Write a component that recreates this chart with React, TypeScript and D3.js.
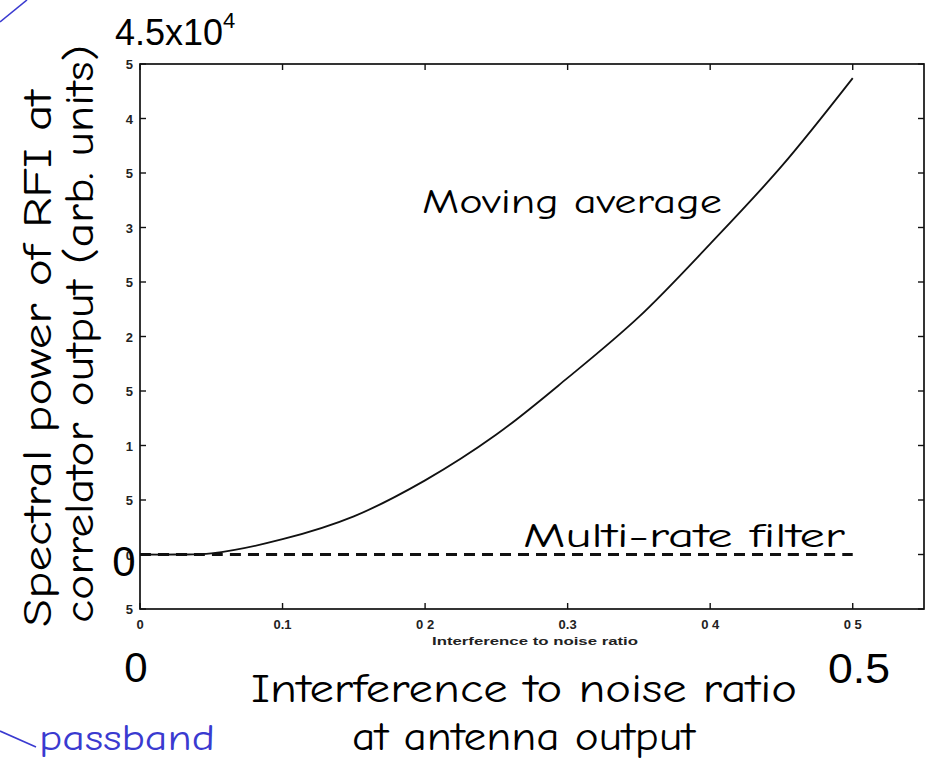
import * as d3 from 'd3';

// interference-to-noise ratio at antenna output
const inr = [0, 0.025, 0.05, 0.1, 0.15, 0.2, 0.25, 0.3, 0.35, 0.4, 0.45, 0.5];
// spectral power of RFI
const movingAverage = [0, 0, 100, 1400, 3500, 6800, 11000, 16200, 21800, 28500, 35600, 43700];
const multiRate = [0, 0, 0, 0, 0, 0, 0, 0, 0, 0, 0, 0];

const xTicks = [0, 0.1, 0.2, 0.3, 0.4, 0.5];
const xTickLabels = ['0', '0.1', '0 2', '0.3', '0 4', '0 5'];
const yTicks = [45000, 40000, 35000, 30000, 25000, 20000, 15000, 10000, 5000, 0, -5000];
const yTickLabels = ['5', '4', '5', '3', '5', '2', '5', '1', '5', '0', '5'];

const W = 931;
const H = 762;
const comic = "'Comic Sans MS', 'Comic Neue', 'DejaVu Sans', sans-serif";
const helv = "'Liberation Sans', Arial, sans-serif";

export default function App() {
  const x = d3.scaleLinear().domain([0, 0.55]).range([140, 924]);
  const y = d3.scaleLinear().domain([-5000, 45000]).range([609, 64]);

  const [x0, x1] = x.range();
  const [y0, y1] = y.range();

  const line = d3
    .line<number>()
    .x((_, i) => x(inr[i]))
    .y((d) => y(d))
    .curve(d3.curveCatmullRom.alpha(0.5));

  const tk = 6;

  return (
    <svg
      width={W}
      height={H}
      style={{ position: 'absolute', left: 0, top: 0, background: '#fff' }}
    >
      {/* frame */}
      <rect x={x0} y={y1} width={x1 - x0} height={y0 - y1} fill="none" stroke="#111" strokeWidth={1.7} />

      {/* ticks, inward on all sides */}
      {xTicks.map((t) => (
        <g key={'xt' + t} stroke="#111" strokeWidth={1.4}>
          <line x1={x(t)} x2={x(t)} y1={y0} y2={y0 - tk} />
          <line x1={x(t)} x2={x(t)} y1={y1} y2={y1 + tk} />
        </g>
      ))}
      {yTicks.map((t) => (
        <g key={'yt' + t} stroke="#111" strokeWidth={1.4}>
          <line x1={x0} x2={x0 + tk} y1={y(t)} y2={y(t)} />
          <line x1={x1} x2={x1 - tk} y1={y(t)} y2={y(t)} />
        </g>
      ))}

      {xTickLabels.map((s, i) => (
        <text
          key={'xl' + i}
          x={x(xTicks[i])}
          y={629}
          textAnchor="middle"
          fontFamily={helv}
          fontWeight="bold"
          fontSize={13}
          fill="#222"
        >
          {s}
        </text>
      ))}
      {yTickLabels.map((s, i) => (
        <text
          key={'yl' + i}
          x={133}
          y={y(yTicks[i]) + 5}
          textAnchor="end"
          fontFamily={helv}
          fontWeight="bold"
          fontSize={13}
          fill="#222"
        >
          {s}
        </text>
      ))}
      <text x={432} y={645} fontFamily={helv} fontWeight="bold" fontSize={11} textLength={206} lengthAdjust="spacingAndGlyphs" fill="#222">
        Interference to noise ratio
      </text>

      {/* series */}
      <path d={line(multiRate) ?? ''} fill="none" stroke="#111" strokeWidth={3} strokeDasharray="11 7" />
      <path d={line(movingAverage) ?? ''} fill="none" stroke="#111" strokeWidth={1.8} />

      {/* slide annotations */}
      <text x={115} y={45} fontFamily={helv} fontSize={36} fill="#000">
        4.5x10<tspan dy={-17} fontSize={22}>4</tspan>
      </text>
      <text x={422} y={213} fontFamily={comic} fontSize={34} textLength={300} lengthAdjust="spacingAndGlyphs">
        Moving average
      </text>
      <text x={523} y={547} fontFamily={comic} fontSize={34} textLength={322} lengthAdjust="spacingAndGlyphs">
        Multi-rate filter
      </text>
      <text x={124} y={576} textAnchor="middle" fontFamily={helv} fontSize={42}>
        0
      </text>
      <text transform="translate(51,627) rotate(-90)" fontFamily={comic} fontSize={40} textLength={537} lengthAdjust="spacingAndGlyphs">
        Spectral power of RFI at
      </text>
      <text transform="translate(93,623) rotate(-90)" fontFamily={comic} fontSize={40} textLength={578} lengthAdjust="spacingAndGlyphs">
        correlator output (arb. units)
      </text>
      <text x={136} y={682} textAnchor="middle" fontFamily={helv} fontSize={42}>
        0
      </text>
      <text x={828} y={683} fontFamily={helv} fontSize={42} textLength={62} lengthAdjust="spacingAndGlyphs">
        0.5
      </text>
      <text x={251} y={702} fontFamily={comic} fontSize={40} textLength={546} lengthAdjust="spacingAndGlyphs">
        Interference to noise ratio
      </text>
      <text x={352} y={750} fontFamily={comic} fontSize={40} textLength={343} lengthAdjust="spacingAndGlyphs">
        at antenna output
      </text>
      <text x={39} y={750} fontFamily={comic} fontSize={37} fill="#3a3ad0" textLength={176} lengthAdjust="spacingAndGlyphs">
        passband
      </text>
      <line x1={0} y1={731} x2={36} y2={747} stroke="#3a3ad0" strokeWidth={1.6} />
      <line x1={0} y1={22} x2={27} y2={0} stroke="#3a3ad0" strokeWidth={1.6} />
    </svg>
  );
}
